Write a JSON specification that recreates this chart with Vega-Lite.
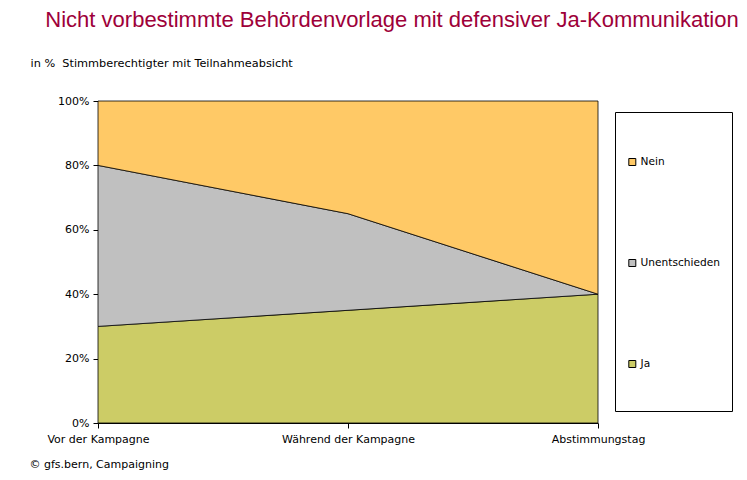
{
  "$schema": "https://vega.github.io/schema/vega-lite/v6.json",
  "width": 500,
  "height": 322,
  "autosize": {"type": "none"},
  "padding": {"left": 98, "top": 101, "right": 149, "bottom": 57},
  "background": "white",
  "config": {
    "view": {"stroke": null},
    "font": "DejaVu Sans"
  },
  "title": {
    "text": "Nicht vorbestimmte Behördenvorlage mit defensiver Ja-Kommunikation",
    "color": "#9E0039",
    "fontSize": 22,
    "fontWeight": "normal",
    "font": "Liberation Sans",
    "anchor": "middle",
    "frame": "group",
    "dx": 44,
    "offset": 25
  },
  "data": {
    "values": [
      {"phase": "Vor der Kampagne", "kategorie": "Ja", "rang": 0, "anteil": 0.30},
      {"phase": "Während der Kampagne", "kategorie": "Ja", "rang": 0, "anteil": 0.35},
      {"phase": "Abstimmungstag", "kategorie": "Ja", "rang": 0, "anteil": 0.40},
      {"phase": "Vor der Kampagne", "kategorie": "Unentschieden", "rang": 1, "anteil": 0.50},
      {"phase": "Während der Kampagne", "kategorie": "Unentschieden", "rang": 1, "anteil": 0.30},
      {"phase": "Abstimmungstag", "kategorie": "Unentschieden", "rang": 1, "anteil": 0.00},
      {"phase": "Vor der Kampagne", "kategorie": "Nein", "rang": 2, "anteil": 0.20},
      {"phase": "Während der Kampagne", "kategorie": "Nein", "rang": 2, "anteil": 0.35},
      {"phase": "Abstimmungstag", "kategorie": "Nein", "rang": 2, "anteil": 0.60}
    ]
  },
  "mark": {"type": "area", "stroke": "black", "strokeWidth": 0.8, "opacity": 1},
  "encoding": {
    "x": {
      "field": "phase",
      "type": "ordinal",
      "sort": ["Vor der Kampagne", "Während der Kampagne", "Abstimmungstag"],
      "scale": {"type": "point", "padding": 0},
      "axis": {
        "title": "© gfs.bern, Campaigning",
        "titleFont": "DejaVu Sans",
        "titleFontSize": 11,
        "titleFontWeight": "normal",
        "titleColor": "black",
        "titleAlign": "left",
        "titleBaseline": "alphabetic",
        "titleX": -69,
        "titleY": 44,
        "labelAngle": 0,
        "labelFont": "DejaVu Sans",
        "labelFontSize": 11,
        "labelColor": "black",
        "labelPadding": 5,
        "domainColor": "black",
        "tickColor": "black",
        "tickSize": 5,
        "labelOverlap": false
      }
    },
    "y": {
      "field": "anteil",
      "type": "quantitative",
      "stack": "zero",
      "scale": {"domain": [0, 1], "nice": false},
      "axis": {
        "title": "in % \u00a0Stimmberechtigter mit Teilnahmeabsicht",
        "titleFont": "DejaVu Sans",
        "titleFontSize": 11.3,
        "titleFontWeight": "normal",
        "titleColor": "black",
        "titleAngle": 0,
        "titleAlign": "left",
        "titleBaseline": "alphabetic",
        "titleX": -68,
        "titleY": -35,
        "values": [0, 0.2, 0.4, 0.6, 0.8, 1],
        "format": ".0%",
        "grid": false,
        "labelFont": "DejaVu Sans",
        "labelFontSize": 11,
        "labelColor": "black",
        "labelPadding": 4,
        "domainColor": "black",
        "tickColor": "black",
        "tickSize": 5
      }
    },
    "order": {"field": "rang", "type": "quantitative"},
    "color": {
      "field": "kategorie",
      "type": "nominal",
      "scale": {
        "domain": ["Nein", "Unentschieden", "Ja"],
        "range": ["#FFC966", "#C0C0C0", "#CCCC66"]
      },
      "legend": {
        "title": " ",
        "titleFontSize": 1,
        "titlePadding": 2,
        "orient": "none",
        "legendX": 517,
        "legendY": 11,
        "padding": 12,
        "strokeColor": "black",
        "fillColor": "white",
        "symbolType": "square",
        "symbolSize": 49,
        "symbolStrokeColor": "black",
        "symbolStrokeWidth": 1,
        "symbolOpacity": 1,
        "labelFont": "DejaVu Sans",
        "labelFontSize": 10.6,
        "labelColor": "black",
        "labelOffset": 3,
        "clipHeight": 70,
        "rowPadding": 31
      }
    }
  }
}
